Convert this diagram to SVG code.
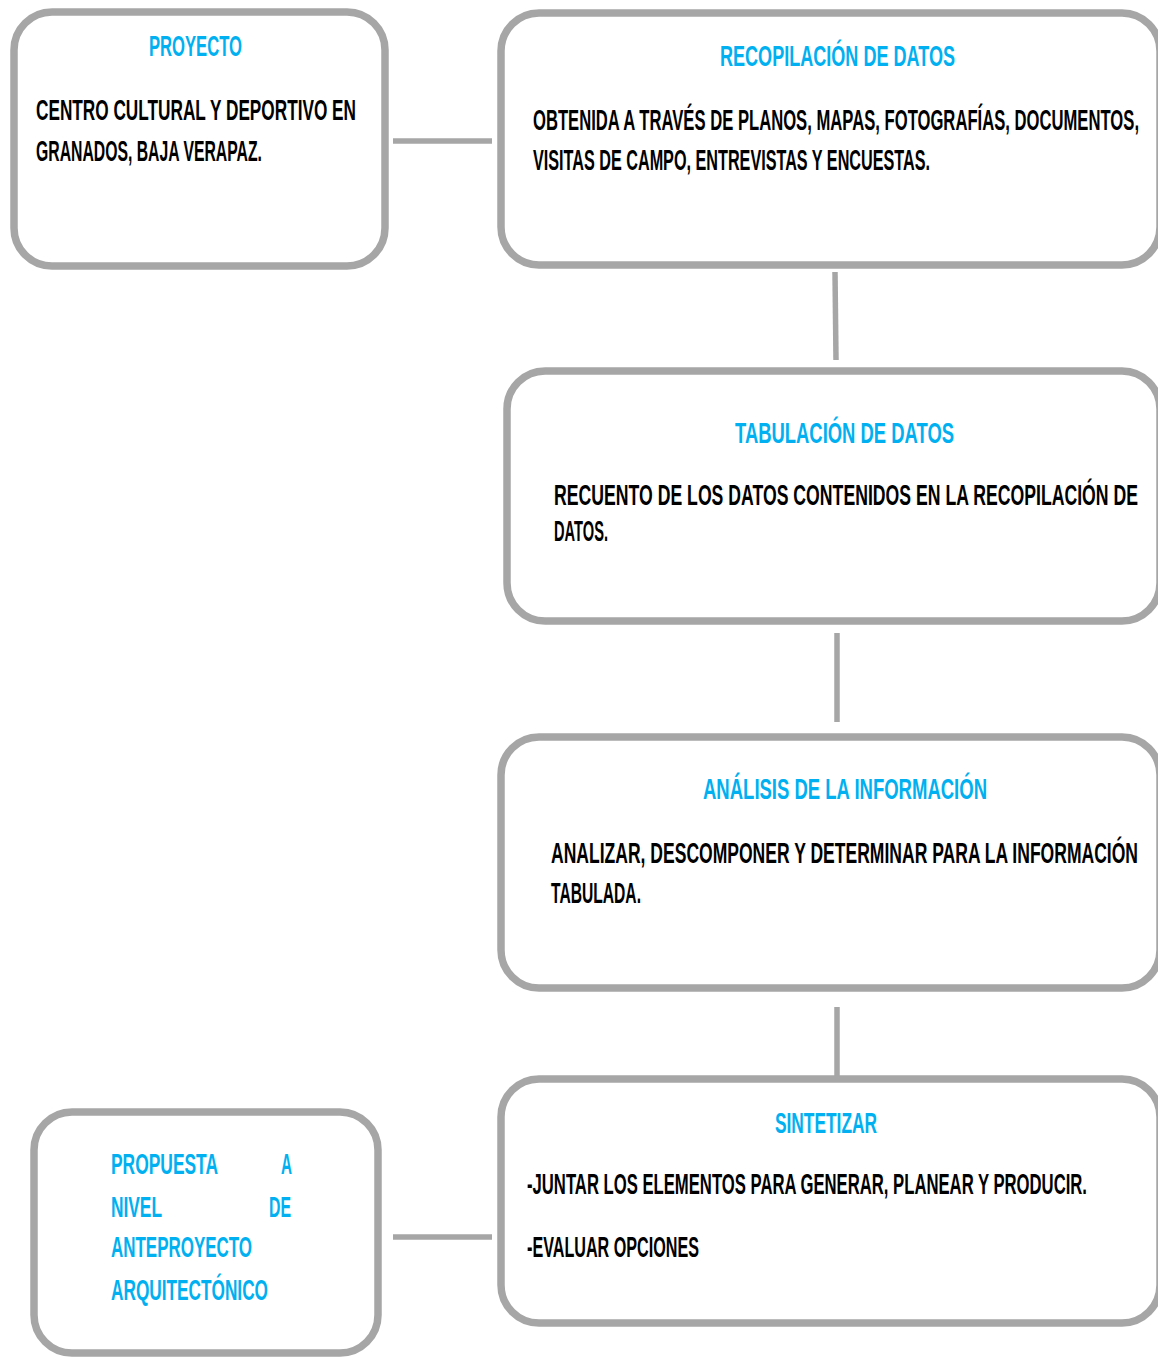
<svg xmlns="http://www.w3.org/2000/svg" width="1158" height="1357" viewBox="0 0 1158 1357">
<style>
.box{fill:#ffffff;stroke:#a6a6a6;stroke-width:7.5}
.con{stroke:#a6a6a6;stroke-width:5.5;fill:none}
.t{font-family:"Liberation Sans",Arial,sans-serif;font-size:29px;font-weight:bold;fill:#00b0f0}
.b{font-family:"Liberation Sans",Arial,sans-serif;font-size:29px;font-weight:bold;fill:#000000}
</style>
<rect width="1158" height="1357" fill="#ffffff"/>
<g id="connectors">
<line class="con" x1="393" y1="141" x2="492" y2="141"/>
<line class="con" x1="835" y1="272" x2="836" y2="360"/>
<line class="con" x1="837" y1="633" x2="837" y2="722"/>
<line class="con" x1="837" y1="1007" x2="837" y2="1096"/>
<line class="con" x1="393" y1="1237" x2="492" y2="1237"/>
</g>
<g id="proyecto">
<rect class="box" x="14" y="12" width="371" height="254" rx="38"/>
<text class="t" x="149" y="56" textLength="93" lengthAdjust="spacingAndGlyphs">PROYECTO</text>
<text class="b" x="36" y="120" textLength="320" lengthAdjust="spacingAndGlyphs">CENTRO CULTURAL Y DEPORTIVO EN</text>
<text class="b" x="36" y="161" textLength="226" lengthAdjust="spacingAndGlyphs">GRANADOS,  BAJA VERAPAZ.</text>
</g>
<g id="recopilacion">
<rect class="box" x="501" y="13" width="659" height="252" rx="38"/>
<text class="t" x="720" y="66" textLength="235" lengthAdjust="spacingAndGlyphs">RECOPILACIÓN DE DATOS</text>
<text class="b" x="533" y="130" textLength="606" lengthAdjust="spacingAndGlyphs">OBTENIDA A TRAVÉS DE PLANOS, MAPAS, FOTOGRAFÍAS, DOCUMENTOS,</text>
<text class="b" x="533" y="170" textLength="397" lengthAdjust="spacingAndGlyphs">VISITAS DE CAMPO, ENTREVISTAS Y ENCUESTAS.</text>
</g>
<g id="tabulacion">
<rect class="box" x="507" y="371" width="653" height="250" rx="38"/>
<text class="t" x="735" y="443" textLength="219" lengthAdjust="spacingAndGlyphs">TABULACIÓN DE DATOS</text>
<text class="b" x="554" y="505" textLength="584" lengthAdjust="spacingAndGlyphs">RECUENTO DE LOS DATOS CONTENIDOS EN LA RECOPILACIÓN DE</text>
<text class="b" x="554" y="541" textLength="54" lengthAdjust="spacingAndGlyphs">DATOS.</text>
</g>
<g id="analisis">
<rect class="box" x="501" y="737" width="659" height="251" rx="38"/>
<text class="t" x="703" y="799" textLength="284" lengthAdjust="spacingAndGlyphs">ANÁLISIS DE LA INFORMACIÓN</text>
<text class="b" x="551" y="863" textLength="587" lengthAdjust="spacingAndGlyphs">ANALIZAR, DESCOMPONER Y DETERMINAR PARA LA INFORMACIÓN</text>
<text class="b" x="551" y="903" textLength="90" lengthAdjust="spacingAndGlyphs">TABULADA.</text>
</g>
<g id="sintetizar">
<rect class="box" x="501" y="1079" width="659" height="244" rx="38"/>
<text class="t" x="775" y="1133" textLength="102" lengthAdjust="spacingAndGlyphs">SINTETIZAR</text>
<text class="b" x="527" y="1194" textLength="560" lengthAdjust="spacingAndGlyphs">-JUNTAR LOS ELEMENTOS PARA GENERAR,  PLANEAR Y PRODUCIR.</text>
<text class="b" x="527" y="1257" textLength="172" lengthAdjust="spacingAndGlyphs">-EVALUAR OPCIONES</text>
</g>
<g id="propuesta">
<rect class="box" x="34" y="1112" width="344" height="241" rx="38"/>
<text class="t" x="111" y="1174" textLength="107" lengthAdjust="spacingAndGlyphs">PROPUESTA</text>
<text class="t" x="281" y="1174" textLength="11" lengthAdjust="spacingAndGlyphs">A</text>
<text class="t" x="111" y="1217" textLength="51" lengthAdjust="spacingAndGlyphs">NIVEL</text>
<text class="t" x="269" y="1217" textLength="22" lengthAdjust="spacingAndGlyphs">DE</text>
<text class="t" x="111" y="1257" textLength="141" lengthAdjust="spacingAndGlyphs">ANTEPROYECTO</text>
<text class="t" x="111" y="1300" textLength="157" lengthAdjust="spacingAndGlyphs">ARQUITECTÓNICO</text>
</g>
</svg>
